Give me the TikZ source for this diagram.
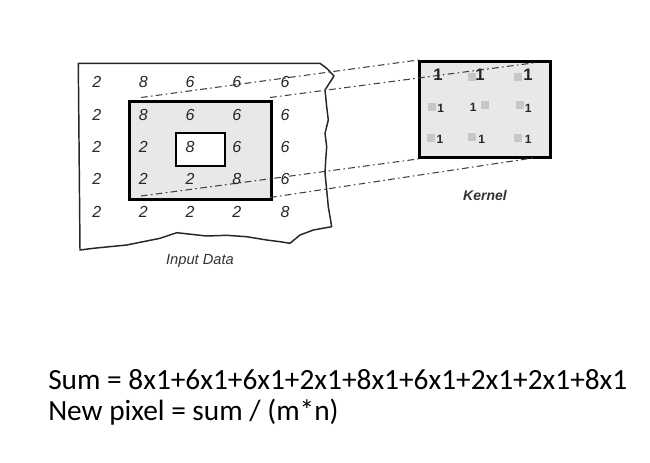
\documentclass[tikz,border=0pt]{standalone}
\usepackage{fontspec}
\setmainfont{Carlito}
\newfontfamily\gridfont{Liberation Sans}
\begin{document}
\begin{tikzpicture}[x=0.75pt,y=-0.75pt,
  grid/.style={font=\gridfont\itshape\fontsize{12}{14}\selectfont, text=black!85},
  kone/.style={font=\gridfont\bfseries\fontsize{9}{11}\selectfont, text=black!85, inner sep=0pt},
  kbig/.style={font=\gridfont\bfseries\fontsize{12.5}{14}\selectfont, text=black!85, inner sep=0pt},
  ksq/.style={fill=black!22, minimum size=6pt, inner sep=0pt},
  proj/.style={draw=black!75, line width=0.8pt, dash pattern=on 5pt off 2.5pt on 1.2pt off 2.5pt},
  lbl/.style={font=\gridfont\itshape\fontsize{11}{13}\selectfont, text=black!80},
  eq/.style={font=\fontsize{22}{26}\selectfont, anchor=base west, inner sep=0pt}
]
\useasboundingbox (0,0) rectangle (650,462);
% input data outline (torn paper)
\draw[line width=1.1pt, black!85, line join=round]
  (78.3,63.3) -- (320,63.3) -- (326.7,68.3) -- (334,76) -- (329.3,83.3) -- (325,90)
  -- (326.7,106.7) -- (328.3,120) -- (325,133.3) -- (326.7,146.7) -- (325.7,160)
  -- (325,173) -- (326.7,190) -- (328.3,206.7) -- (331.7,226.7)
  -- (313.3,230) -- (300,235) -- (290,243.3) -- (280,241.7) -- (266.7,240)
  -- (246.7,236.7) -- (226.7,235.3) -- (206.7,236) -- (176.7,232.7) -- (160,238.3)
  -- (126.7,245) -- (93.3,248.3) -- (80,250) -- cycle;
% window on input
\node[draw=black, line width=2.2pt, fill=black!9, inner sep=0pt,
  minimum width=106.3pt, minimum height=73.7pt, anchor=north west] (win) at (128.3,100) {};
\node[draw=black, line width=1.6pt, fill=white, inner sep=0pt,
  minimum width=37pt, minimum height=25pt, anchor=north west] (centre) at (175,131.7) {};
% kernel
\node[draw=black, line width=2.2pt, fill=black!9, inner sep=0pt,
  minimum width=98.3pt, minimum height=72pt, anchor=north west] (kern) at (418.3,60) {};
% kernel gray squares
\foreach \p [count=\i] in {(471.7,76.7),(518.3,77.3),(432.3,106.7),(485,105),(520,105),(430.7,138.3),(471.7,136.7),(518.3,138.3)}
  \node[ksq] (sq\i) at \p {};
% projection lines
\coordinate (a0) at (141,97.5);
\coordinate (b0) at (270,97.5);
\coordinate (c0) at (141,196);
\coordinate (d0) at (270,197.5);
\coordinate (b1) at (533,63);
\coordinate (d1) at (533,158);
\draw[proj] (a0) -- (kern.north west);
\draw[proj] (b0) -- (b1);
\draw[proj] (c0) -- (kern.south west);
\draw[proj] (d0) -- (d1);
% grid numbers
\foreach \r/\y in {1/82,2/114.5,3/146.7,4/178.5,5/211.7}{
  \foreach \c/\x in {1/96.7,2/143.3,3/190,4/236.7,5/285}{
    \pgfmathtruncatemacro{\v}{
      \r==1 ? (\c==1 ? 2 : (\c==2 ? 8 : 6)) :
      (\r==2 ? (\c==1 ? 2 : (\c==2 ? 8 : 6)) :
      (\r==3 ? (\c<=2 ? 2 : (\c==3 ? 8 : 6)) :
      (\r==4 ? (\c<=3 ? 2 : (\c==4 ? 8 : 6)) :
      (\c<=4 ? 2 : 8))))}
    \node[grid] (n\r\c) at (\x,\y) {\v};
  }
}
% kernel ones
\node[kbig] (k11) at (438,75) {1};
\node[kbig] (k12) at (480,75) {1};
\node[kbig] (k13) at (528,75) {1};
\node[kone] (k21) at (440.7,108.3) {1};
\node[kone] (k22) at (473.3,107.3) {1};
\node[kone] (k23) at (528.3,108.3) {1};
\node[kone] (k31) at (440,139.3) {1};
\node[kone] (k32) at (481.7,139.3) {1};
\node[kone] (k33) at (528.3,139.3) {1};
% labels
\node[lbl] (inlbl) at (200,261) {Input Data};
\node[lbl, font=\gridfont\bfseries\itshape\fontsize{10.5}{12}\selectfont] (klbl) at (485,195) {Kernel};
% equations
\node[eq] (sum) at (48,389) {Sum = 8x1+6x1+6x1+2x1+8x1+6x1+2x1+2x1+8x1};
\node[eq] (newpx) at (48,420) {New pixel = sum / (m*n)};
\end{tikzpicture}
\end{document}
